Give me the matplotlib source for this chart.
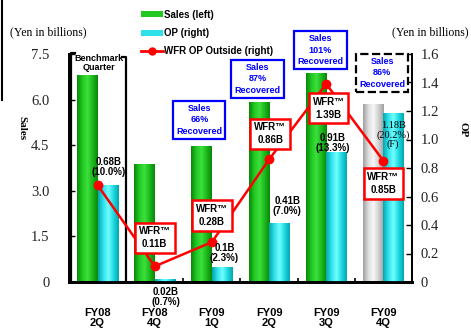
import numpy as np
import matplotlib.pyplot as plt
from matplotlib.colors import LinearSegmentedColormap
from matplotlib.lines import Line2D
from matplotlib.patches import Patch

# Data
quarters = ['FY08\n2Q', 'FY08\n4Q', 'FY09\n1Q', 'FY09\n2Q', 'FY09\n3Q', 'FY09\n4Q']
sales = [6.78, 3.88, 4.47, 5.90, 6.85, 5.83]           # left axis
op = [0.68, 0.02, 0.10, 0.41, 0.91, 1.18]              # right axis
wfr_op = [0.68, 0.11, 0.28, 0.86, 1.39, 0.85]          # right axis
op_labels = ['0.68B\n(10.0%)', '0.02B\n(0.7%)', '0.1B\n(2.3%)',
             '0.41B\n(7.0%)', '0.91B\n(13.3%)', '1.18B\n(20.2%)\n(F)']
wfr_labels = ['', 'WFR™\n0.11B', 'WFR™\n0.28B', 'WFR™\n0.86B', 'WFR™\n1.39B', 'WFR™\n0.85B']
recovered = ['66%', '87%', '101%', '86%']

# Label placement (x in category units, y in right-axis units)
op_label_pos = [(0.19, 0.81), (1.19, -0.105), (2.22, 0.205), (3.32, 0.535), (4.11, 0.975), (5.17, 1.03)]
wfr_box_pos = [None, (1.0, 0.31), (2.0, 0.465), (3.02, 1.04), (4.04, 1.22), (5.0, 0.69)]
recov_pos = [(1.78, 1.137), (2.80, 1.425), (3.90, 1.628), (4.98, 1.467)]

BOLD = ['Liberation Sans Narrow', 'Liberation Sans', 'DejaVu Sans']
SERIF = ['Liberation Serif', 'DejaVu Serif']

green_cmap = LinearSegmentedColormap.from_list('g', ['#088808', '#22c822', '#3de03d', '#1cb81c', '#088808'])
cyan_cmap = LinearSegmentedColormap.from_list('c', ['#00a8b0', '#30e0e8', '#70ffff', '#20d8e0', '#00a8b0'])
grey_cmap = LinearSegmentedColormap.from_list('k', ['#a0a0a0', '#dcdcdc', '#f8f8f8', '#d0d0d0', '#a0a0a0'])


def gradient_fill(ax, bars, cmaps):
    grad = np.linspace(0, 1, 64).reshape(1, -1)
    for bar, cmap in zip(bars, cmaps):
        x, w, h = bar.get_x(), bar.get_width(), bar.get_height()
        ax.imshow(grad, extent=[x, x + w, 0, h], aspect='auto', cmap=cmap,
                  interpolation='bilinear', zorder=2)
        bar.set_visible(False)


fig = plt.figure(figsize=(4.71, 3.35), dpi=100)
ax = fig.add_axes([69 / 471, 1 - 282 / 335, 343 / 471, 228 / 335])
ax2 = ax.twinx()

x = np.arange(len(quarters))
w = 0.36

sales_bars = ax.bar(x - w / 2, sales, w)
gradient_fill(ax, sales_bars, [green_cmap] * 5 + [grey_cmap])
op_bars = ax2.bar(x + w / 2, op, w)
gradient_fill(ax2, op_bars, [cyan_cmap] * 6)

ax2.plot(x, wfr_op, color='red', lw=1.8, marker='o', ms=6, zorder=5)

# OP value labels
for (lx, ly), txt in zip(op_label_pos, op_labels):
    if '(F)' in txt:
        ax2.text(lx, ly, txt, ha='center', va='center', fontsize=7.5, family=SERIF,
                 linespacing=0.95, zorder=7)
    else:
        ax2.text(lx, ly, txt, ha='center', va='center', fontsize=7, family=BOLD,
                 fontweight='bold', linespacing=1.0, zorder=7, clip_on=False)

# WFR OP boxes
for pos, txt in zip(wfr_box_pos, wfr_labels):
    if pos is None:
        continue
    ax2.text(pos[0], pos[1], txt, ha='center', va='center', fontsize=7, family=BOLD,
             fontweight='bold', linespacing=1.35, zorder=8,
             bbox=dict(boxstyle='square,pad=0.4', fc='white', ec='red', lw=1.8))

# Sales recovered boxes
for i, ((bx, by), pct) in enumerate(zip(recov_pos, recovered)):
    ec = 'black' if i == 3 else 'blue'
    ls = '--' if i == 3 else '-'
    ax2.text(bx, by, 'Sales\n' + pct + '\nRecovered', ha='center', va='center', fontsize=6.5,
             family=BOLD, fontweight='bold', color='blue', linespacing=1.35, zorder=8,
             clip_on=False,
             bbox=dict(boxstyle='square,pad=0.35', fc='white', ec=ec, lw=1.6, ls=ls))

# Benchmark quarter bracket
ax.plot([-0.47, -0.47, -0.40], [0, 7.52, 7.52], color='black', lw=1.6, clip_on=False, zorder=4)
ax.plot([0.43, 0.505, 0.505], [7.4, 7.4, 0], color='black', lw=1.6, clip_on=False, zorder=4)
ax.text(0.03, 7.2, 'Benchmark\nQuarter', ha='center', va='center', fontsize=6.5,
        family=BOLD, fontweight='bold', linespacing=1.1, zorder=4)

# Axes styling
ax.set_xlim(-0.5, 5.5)
ax.set_ylim(0, 7.5)
ax2.set_ylim(0, 1.6)
ax.set_yticks([0, 1.5, 3.0, 4.5, 6.0, 7.5])
ax.set_yticklabels(['0', '1.5', '3.0', '4.5', '6.0', '7.5'])
ax2.set_yticks(np.arange(0, 1.61, 0.2))
ax2.set_yticklabels(['0', '0.2', '0.4', '0.6', '0.8', '1.0', '1.2', '1.4', '1.6'])
ax.set_xticks(x)
ax.set_xticklabels(quarters)
ax.set_xticks(np.arange(0.5, 5.5, 1), minor=True)
ax.tick_params(axis='x', which='major', length=0, pad=19)
ax.tick_params(axis='x', which='minor', direction='in', length=3, width=1.2)
ax.tick_params(axis='y', direction='in', length=4, width=1, pad=14)
ax2.tick_params(axis='y', direction='in', length=4, width=1, pad=6)
for lbl in ax.get_xticklabels():
    lbl.set_fontfamily(BOLD)
    lbl.set_fontweight('bold')
    lbl.set_fontsize(8)
    lbl.set_linespacing(0.95)
for lbl in ax.get_yticklabels() + ax2.get_yticklabels():
    lbl.set_fontfamily(SERIF)
    lbl.set_fontsize(10.5)
    lbl.set_color('#222222')

for a in (ax, ax2):
    a.spines['top'].set_visible(False)
    a.spines['bottom'].set_linewidth(2)
    a.spines['left'].set_linewidth(1.3)
    a.spines['right'].set_linewidth(1.3)
    a.patch.set_visible(False)

fig.text(10 / 471, 1 - 32 / 335, '(Yen in billions)', fontsize=8.5, family=SERIF,
         va='center', ha='left')
fig.text(1 - 2 / 471, 1 - 32 / 335, '(Yen in billions)', fontsize=8.5, family=SERIF,
         va='center', ha='right')
fig.text(22 / 471, 1 - 128 / 335, 'Sales', fontsize=8, family=SERIF, fontweight='bold',
         rotation=-90, va='center', ha='center')
fig.text(463 / 471, 1 - 130 / 335, 'OP', fontsize=8, family=SERIF, fontweight='bold',
         rotation=-90, va='center', ha='center')
fig.add_artist(Line2D([2 / 471, 2 / 471], [1, 1 - 100 / 335], color='black', lw=1.5))

handles = [Patch(facecolor='#22c822'), Patch(facecolor='#30e0e8'),
           Line2D([], [], color='red', marker='o', lw=2, ms=5)]
labels = ['Sales (left)', 'OP (right)', 'WFR OP Outside (right)']
leg = fig.legend(handles, labels, loc='upper left', bbox_to_anchor=(134 / 471, 1 - 3 / 335),
                 frameon=False, prop={'family': BOLD, 'weight': 'bold', 'size': 7},
                 handlelength=2.3, handleheight=0.6, labelspacing=0.85, handletextpad=0.1,
                 borderpad=0.2)

fig.savefig('out.png', dpi=100)
